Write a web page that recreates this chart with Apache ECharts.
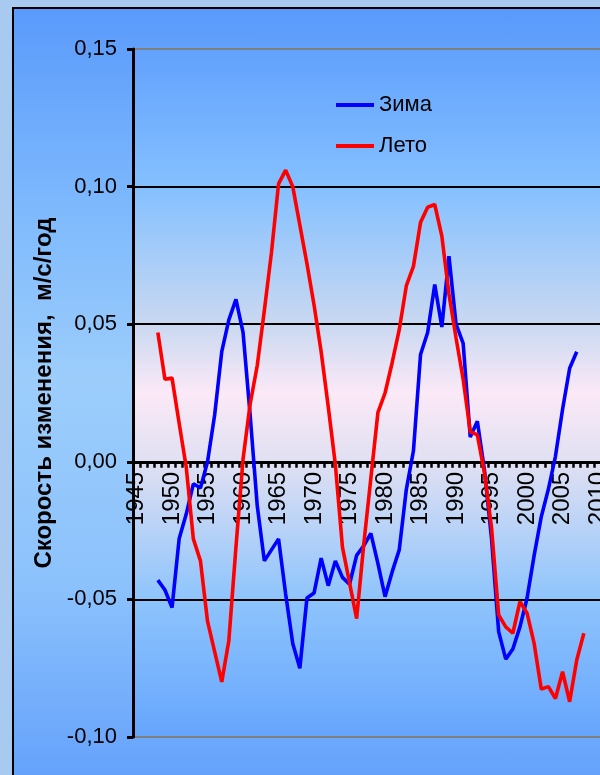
<!DOCTYPE html>
<html>
<head>
<meta charset="utf-8">
<script src="https://cdn.jsdelivr.net/npm/echarts@6/dist/echarts.min.js"></script>
<style>
  html, body { margin: 0; padding: 0; }
  body { width: 600px; height: 775px; overflow: hidden; background: #a8caf0; position: relative; }
  #frame {
    position: absolute; left: 12px; top: 7px; width: 640px; height: 820px;
    border: 2px solid #000;
    background: linear-gradient(to bottom, #5a9afb 0%, #7fbafd 25%, #9ccdfb 45%, #8cc2fc 70%, #5f9dfb 97%);
  }
  #chart { position: absolute; left: 0; top: 0; width: 600px; height: 775px; }
</style>
</head>
<body>
<div id="frame"></div>
<div id="chart"></div>
<script>
// Years on the category axis
const years = [
  1945, 1946, 1947, 1948, 1949, 1950, 1951, 1952, 1953, 1954,
  1955, 1956, 1957, 1958, 1959, 1960, 1961, 1962, 1963, 1964,
  1965, 1966, 1967, 1968, 1969, 1970, 1971, 1972, 1973, 1974,
  1975, 1976, 1977, 1978, 1979, 1980, 1981, 1982, 1983, 1984,
  1985, 1986, 1987, 1988, 1989, 1990, 1991, 1992, 1993, 1994,
  1995, 1996, 1997, 1998, 1999, 2000, 2001, 2002, 2003, 2004,
  2005, 2006, 2007, 2008, 2009, 2010, 2011, 2012, 2013, 2014, 2015
];

// Winter trend rate, m/s per year, 1948–2007
const winterStart = 1948;
const winter = [
  -0.043, -0.0466, -0.053, -0.028, -0.019, -0.008, -0.0095, 0.000, 0.017, 0.040,
  0.0516, 0.059, 0.047, 0.017, -0.016, -0.036, -0.032, -0.028, -0.048, -0.066,
  -0.075, -0.0495, -0.0477, -0.035, -0.045, -0.036, -0.042, -0.0445, -0.034, -0.0305,
  -0.026, -0.037, -0.049, -0.040, -0.032, -0.010, 0.004, 0.039, 0.047, 0.0644,
  0.049, 0.0747, 0.050, 0.043, 0.009, 0.0147, -0.003, -0.028, -0.0617, -0.0717,
  -0.068, -0.060, -0.0496, -0.034, -0.020, -0.010, 0.002, 0.019, 0.034, 0.040
];

// Summer trend rate, m/s per year, 1948–2008
const summerStart = 1948;
const summer = [
  0.047, 0.030, 0.0304, 0.014, -0.002, -0.028, -0.036, -0.058, -0.069, -0.080,
  -0.065, -0.031, 0.001, 0.021, 0.035, 0.055, 0.076, 0.101, 0.106, 0.100,
  0.086, 0.072, 0.057, 0.040, 0.020, -0.001, -0.031, -0.044, -0.057, -0.030,
  -0.006, 0.018, 0.025, 0.036, 0.048, 0.064, 0.071, 0.087, 0.0925, 0.0935,
  0.082, 0.061, 0.045, 0.030, 0.011, 0.0098, -0.004, -0.024, -0.0556, -0.060,
  -0.0623, -0.0508, -0.055, -0.066, -0.0826, -0.0817, -0.086, -0.0763, -0.0872, -0.072,
  -0.0623
];

const yTicks = { min: -0.10, max: 0.15, step: 0.05 };

// Place a series on the year axis (null before its first year / after its last)
function alignToYears(values, start) {
  return years.map(y => {
    const i = y - start;
    return i >= 0 && i < values.length ? values[i] : null;
  });
}

const FONT = "'Liberation Sans', Arial, sans-serif";
const GRID_TOP = 49, GRID_HEIGHT = 688;
// the year axis sits on the zero level of the value axis
const zeroOffset = -GRID_HEIGHT * (0 - yTicks.min) / (yTicks.max - yTicks.min);

const chart = echarts.init(document.getElementById('chart'), null, { renderer: 'canvas' });

chart.setOption({
  backgroundColor: 'transparent',
  animation: false,
  textStyle: { fontFamily: FONT },
  grid: {
    show: true,
    left: 133,
    top: GRID_TOP,
    width: 504.1,
    height: GRID_HEIGHT,
    borderWidth: 0,
    outerBoundsMode: 'none',
    containLabel: false,
    backgroundColor: new echarts.graphic.LinearGradient(0, 0, 0, 1, [
      { offset: 0.00, color: '#62a1fd' },
      { offset: 0.20, color: '#84c0ff' },
      { offset: 0.40, color: '#c9d8f1' },
      { offset: 0.50, color: '#fbe9f7' },
      { offset: 0.60, color: '#e0e0f2' },
      { offset: 0.80, color: '#8ec4fc' },
      { offset: 1.00, color: '#66a5fd' }
    ])
  },
  legend: {
    orient: 'vertical',
    left: 336,
    top: 93,
    padding: 0,
    icon: 'rect',
    itemWidth: 38,
    itemHeight: 4,
    itemGap: 17,
    textStyle: { fontFamily: FONT, fontSize: 22, color: '#000', lineHeight: 24 },
    data: ['Зима', 'Лето']
  },
  xAxis: {
    type: 'category',
    data: years,
    boundaryGap: true,
    position: 'bottom',
    offset: zeroOffset,
    axisLine: { onZero: false, lineStyle: { color: '#000', width: 3 } },
    axisTick: { show: true, interval: 0, length: 6, lineStyle: { color: '#000', width: 2.5 } },
    axisLabel: {
      interval: 4,
      rotate: 90,
      margin: 10,
      color: '#000',
      fontFamily: FONT,
      fontSize: 24
    },
    splitLine: { show: false }
  },
  yAxis: {
    type: 'value',
    min: yTicks.min,
    max: yTicks.max,
    interval: yTicks.step,
    name: 'Скорость изменения,  м/с/год',
    nameLocation: 'middle',
    nameGap: 72,
    nameTextStyle: { fontFamily: FONT, fontSize: 24, fontWeight: 'bold', color: '#000' },
    axisLine: { show: true, onZero: false, lineStyle: { color: '#000', width: 3 } },
    axisTick: { show: true, length: 6, lineStyle: { color: '#000', width: 3 } },
    axisLabel: {
      margin: 16,
      color: '#000',
      fontFamily: FONT,
      fontSize: 22,
      formatter: v => v.toFixed(2).replace('.', ',').replace('-0,00', '0,00')
    },
    splitLine: {
      show: true,
      lineStyle: { color: ['#7f7f7f', '#000', '#000', '#000', '#000', '#7f7f7f'], width: 2 }
    }
  },
  series: [
    {
      name: 'Зима',
      type: 'line',
      data: alignToYears(winter, winterStart),
      symbol: 'none',
      connectNulls: false,
      lineStyle: { color: '#0000ff', width: 3.6 },
      itemStyle: { color: '#0000ff' }
    },
    {
      name: 'Лето',
      type: 'line',
      data: alignToYears(summer, summerStart),
      symbol: 'none',
      connectNulls: false,
      lineStyle: { color: '#ff0000', width: 3.6 },
      itemStyle: { color: '#ff0000' }
    }
  ]
});
</script>
</body>
</html>
